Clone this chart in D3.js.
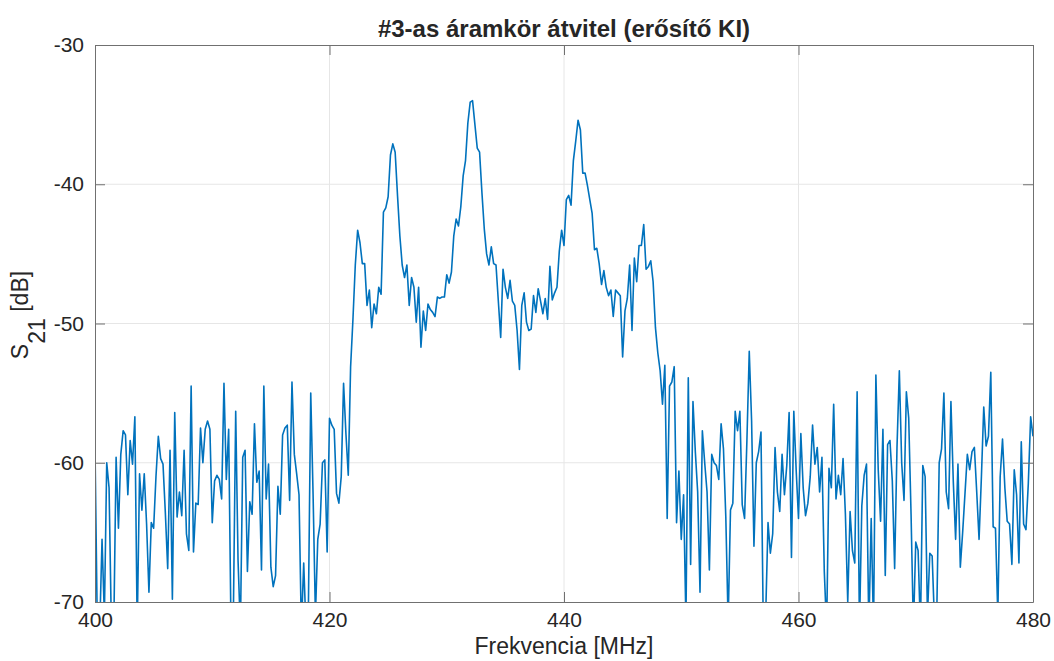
<!DOCTYPE html>
<html>
<head>
<meta charset="utf-8">
<script src="https://cdn.jsdelivr.net/npm/d3@7/dist/d3.min.js"></script>
<style>
  body { margin: 0; background: #fff; }
  svg text { font-family: "Liberation Sans", Arial, Helvetica, sans-serif; fill: #262626; }
</style>
</head>
<body>
<script>
const TITLE = "#3-as áramkör átvitel (erősítő KI)";
const X_LABEL = "Frekvencia [MHz]";
const FREQ_START = 400;
const FREQ_STEP = 0.2;
const X_TICKS = [400, 420, 440, 460, 480];
const Y_TICKS = [-70, -60, -50, -40, -30];
// measured S21 in dB, one value per 0.2 MHz step from 400 to 480 MHz
const S21 = [
  -58.9, -72, -72, -65.5, -71, -60, -61.8, -72, -72, -59.6,
  -64.7, -59.4, -57.7, -58, -62.3, -58.4, -60.1, -56.7, -72, -60.8,
  -63.4, -60.8, -64.4, -69.3, -64.3, -64.7, -61, -58.1, -59.7, -60.1,
  -63.6, -67.6, -59.1, -69.8, -56.4, -63.9, -62.1, -63.8, -59.1, -65.1,
  -66.3, -54.5, -66.4, -62.9, -63, -57.5, -60, -57.6, -57, -57.6,
  -64.3, -61.3, -60.9, -61.2, -62.6, -54.3, -61.2, -57.6, -72, -71,
  -56.3, -67, -72, -59.6, -59.1, -67.8, -62.8, -63.7, -57.2, -61.4,
  -60.6, -67.7, -54.5, -62.6, -60.1, -67.5, -68.9, -68.1, -61.7, -63.7,
  -58, -57.5, -57.3, -62.7, -54.2, -59.4, -60.8, -62.3, -72, -67.2,
  -72, -70.5, -55, -62.3, -71, -65.5, -64.4, -60, -59.8, -66.4,
  -56.8, -57.3, -57.6, -62.2, -62.9, -61, -54.3, -57.9, -60.9, -53.1,
  -49.7, -45.8, -43.3, -44.2, -45.7, -45.7, -48.7, -47.6, -50.3, -48.6,
  -49.3, -47.4, -47.9, -42, -41.7, -40.9, -37.9, -37.1, -37.7, -40.8,
  -43.7, -45.8, -46.7, -45.8, -48.7, -46.7, -47.4, -49.9, -47.4, -51.7,
  -49.1, -50.5, -48.6, -49, -49.2, -49.5, -48.1, -48.2, -48.1, -48.1,
  -46.5, -47.1, -46.3, -43.7, -42.5, -43, -41.6, -39.4, -38.3, -35.6,
  -34.1, -34, -35.7, -37.4, -37.7, -40.6, -43.2, -45, -45.8, -44.5,
  -45.7, -45.8, -48.4, -51, -46.1, -47.4, -48.2, -46.9, -48.4, -48.7,
  -50.5, -53.3, -48.7, -47.8, -49.9, -50.5, -50.4, -48, -49.2, -47.5,
  -48.4, -49.3, -48.2, -49.7, -45.9, -48.3, -47.8, -47.4, -44.8, -43.3,
  -44.4, -41.1, -40.8, -41.5, -38.3, -36.9, -35.4, -36.1, -39.2, -39.2,
  -40.1, -41.1, -42.1, -44.7, -44.6, -45.7, -47.2, -46.2, -47.4, -48,
  -47.6, -49.5, -47.6, -47.8, -48, -52.4, -49.1, -48.2, -45.8, -50.5,
  -45.3, -47, -44.4, -44.4, -42.9, -46.1, -45.9, -45.5, -47, -50.3,
  -52.1, -53.4, -55.8, -53, -64, -54.5, -54.2, -53.1, -64.3, -60.6,
  -65.5, -62.3, -71.5, -53.9, -67.3, -55.6, -59.2, -62.1, -69.3, -57.7,
  -60, -62.1, -67.7, -59.4, -60, -60.2, -61.2, -57.2, -59, -63.9,
  -71.5, -63.4, -62.9, -56.3, -57.7, -56.3, -63, -64, -58.4, -52,
  -57, -66, -60, -59.2, -57.8, -72, -71, -64.3, -66.5, -65.1,
  -58.9, -62.1, -63.5, -59.4, -62.3, -60.2, -56.4, -66.8, -56.3, -60.5,
  -64, -57.9, -61.8, -63.8, -62.9, -61, -57.3, -60.1, -58.9, -62.1,
  -59.6, -67.8, -72, -60.4, -61.8, -55.8, -62.6, -60.9, -62.3, -59.7,
  -63.7, -70, -63.5, -66.3, -67.2, -54.9, -72, -63.1, -60.9, -60.1,
  -72, -64, -72, -53.7, -60.5, -64.2, -57.6, -68.1, -58.7, -58.4,
  -61.3, -67.6, -58.9, -53.4, -60, -62.7, -54.9, -56.8, -63.7, -72,
  -65.7, -66.3, -72, -60.2, -61, -71, -66.5, -66.7, -71.5, -70.5,
  -60, -59, -55, -62.1, -63.3, -55.6, -61.3, -65.5, -60.1, -67.5,
  -65, -62.2, -59.4, -60.5, -59.2, -58.9, -62.1, -65.5, -61, -56,
  -58.8, -58.1, -53.5, -64.6, -64.7, -71, -61, -58.3, -61.8, -64.2,
  -64.4, -67.3, -60.5, -62.3, -67.2, -58.5, -64.4, -64.8, -61.5, -56.7,
  -58.1
];

const WIDTH = 1054;
const HEIGHT = 661;
const PLOT = { left: 95, right: 1033, top: 45, bottom: 602 };
const LINE_COLOR = "#0072bd";
const AXIS_COLOR = "#707070";
const GRID_COLOR = "#e6e6e6";
const TICK_LEN = 10;

const points = S21.map((v, i) => ({ f: FREQ_START + i * FREQ_STEP, v }));

const x = d3.scaleLinear().domain([400, 480]).range([PLOT.left, PLOT.right]);
const y = d3.scaleLinear().domain([-70, -30]).range([PLOT.bottom, PLOT.top]);

const svg = d3
  .select("body")
  .append("svg")
  .attr("width", WIDTH)
  .attr("height", HEIGHT);

// grid
svg
  .append("g")
  .selectAll("line")
  .data(X_TICKS.slice(1, -1))
  .enter()
  .append("line")
  .attr("x1", (d) => x(d))
  .attr("x2", (d) => x(d))
  .attr("y1", PLOT.top)
  .attr("y2", PLOT.bottom)
  .attr("stroke", GRID_COLOR);
svg
  .append("g")
  .selectAll("line")
  .data(Y_TICKS.slice(1, -1))
  .enter()
  .append("line")
  .attr("x1", PLOT.left)
  .attr("x2", PLOT.right)
  .attr("y1", (d) => y(d))
  .attr("y2", (d) => y(d))
  .attr("stroke", GRID_COLOR);

svg
  .append("clipPath")
  .attr("id", "clip")
  .append("rect")
  .attr("x", PLOT.left)
  .attr("y", PLOT.top)
  .attr("width", PLOT.right - PLOT.left)
  .attr("height", PLOT.bottom - PLOT.top);

const line = d3
  .line()
  .x((d) => x(d.f))
  .y((d) => y(d.v));

svg
  .append("path")
  .datum(points)
  .attr("clip-path", "url(#clip)")
  .attr("fill", "none")
  .attr("stroke", LINE_COLOR)
  .attr("stroke-width", 1.6)
  .attr("stroke-linejoin", "round")
  .attr("d", line);

// axes, ticks pointing inward
const fmt = (d) => String(d);
const styleAxis = (g) => {
  g.selectAll(".domain").attr("stroke", AXIS_COLOR);
  g.selectAll(".tick line").attr("stroke", AXIS_COLOR);
  g.selectAll(".tick text").style("font-size", "21px").attr("fill", "#262626");
};

svg
  .append("g")
  .attr("transform", `translate(0,${PLOT.bottom})`)
  .call(d3.axisBottom(x).tickValues(X_TICKS).tickFormat(fmt).tickSizeInner(-TICK_LEN).tickSizeOuter(0).tickPadding(10))
  .call(styleAxis);
svg
  .append("g")
  .attr("transform", `translate(0,${PLOT.top})`)
  .call(d3.axisTop(x).tickValues(X_TICKS).tickFormat("").tickSizeInner(-TICK_LEN).tickSizeOuter(0))
  .call(styleAxis);
svg
  .append("g")
  .attr("transform", `translate(${PLOT.left},0)`)
  .call(d3.axisLeft(y).tickValues(Y_TICKS).tickFormat(fmt).tickSizeInner(-TICK_LEN).tickSizeOuter(0).tickPadding(11))
  .call(styleAxis);
svg
  .append("g")
  .attr("transform", `translate(${PLOT.right},0)`)
  .call(d3.axisRight(y).tickValues(Y_TICKS).tickFormat("").tickSizeInner(-TICK_LEN).tickSizeOuter(0))
  .call(styleAxis);
svg.selectAll("g").attr("font-family", null);

// title and labels
svg
  .append("text")
  .attr("x", (PLOT.left + PLOT.right) / 2)
  .attr("y", 37)
  .attr("text-anchor", "middle")
  .style("font-size", "24px")
  .style("font-weight", "bold")
  .attr("fill", "#000")
  .text(TITLE);

svg
  .append("text")
  .attr("x", (PLOT.left + PLOT.right) / 2)
  .attr("y", 654)
  .attr("text-anchor", "middle")
  .style("font-size", "23px")
  .text(X_LABEL);

const yLabel = svg
  .append("text")
  .attr("transform", `translate(28,315) rotate(-90)`)
  .attr("text-anchor", "middle")
  .style("font-size", "23px");
yLabel.append("tspan").text("S");
yLabel.append("tspan").attr("dy", 17).text("21");
yLabel.append("tspan").attr("dy", -17).text(" [dB]");
</script>
</body>
</html>
